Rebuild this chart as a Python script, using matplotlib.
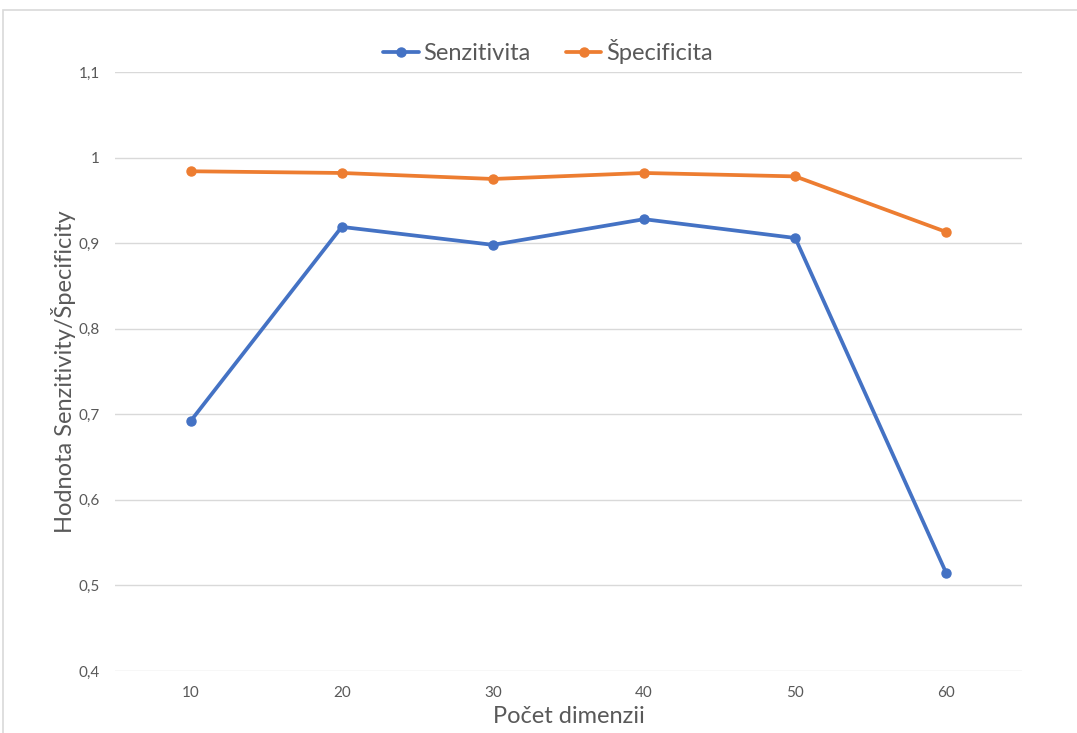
import matplotlib
matplotlib.use("Agg")
import matplotlib.pyplot as plt
from matplotlib.patches import Rectangle

# Data
dimensions = ["10", "20", "30", "40", "50", "60"]
sensitivity = [0.692, 0.919, 0.898, 0.928, 0.906, 0.514]
specificity = [0.984, 0.982, 0.975, 0.982, 0.978, 0.913]
y_ticks = [0.4, 0.5, 0.6, 0.7, 0.8, 0.9, 1.0, 1.1]

plt.rcParams['font.family'] = ['Lato', 'DejaVu Sans']

W, H = 1077, 733
fig = plt.figure(figsize=(W / 100, H / 100), dpi=100)
fig.patch.set_facecolor("white")

# Chart border
fig.patches.append(Rectangle((3 / W, -0.05), 1.2, 1 - 10 / H + 0.05,
                             transform=fig.transFigure, fill=False,
                             edgecolor="#D9D9D9", linewidth=1.2, zorder=0))

ax = fig.add_axes([115 / W, 1 - 671 / H, (1022 - 115) / W, (671 - 72) / H])

blue = "#4472C4"
orange = "#ED7D31"
x = list(range(len(dimensions)))
ax.plot(x, sensitivity, color=blue, linewidth=2.7, marker="o", markersize=6.5,
        label="Senzitivita", solid_capstyle="round", zorder=3)
ax.plot(x, specificity, color=orange, linewidth=2.7, marker="o", markersize=6.5,
        label="Špecificita", solid_capstyle="round", zorder=3)

ax.set_xlim(-0.5, len(dimensions) - 0.5)
ax.set_ylim(0.4, 1.1)
ax.set_xticks(x)
ax.set_xticklabels(dimensions)
ax.set_yticks(y_ticks)
ax.set_yticklabels([f"{v:g}".replace(".", ",") for v in y_ticks])

ax.grid(axis="y", color="#D9D9D9", linewidth=1.0)
ax.set_axisbelow(True)
for s in ax.spines.values():
    s.set_visible(False)
ax.tick_params(axis="both", length=0, labelsize=11, labelcolor="#595959")
ax.tick_params(axis="x", pad=11)
ax.tick_params(axis="y", pad=11)

ax.set_xlabel("Počet dimenzii", fontsize=17, color="#595959", labelpad=4)
ax.set_ylabel("Hodnota Senzitivity/Špecificity", fontsize=17, color="#595959",
              labelpad=2)

leg = ax.legend(loc="center", bbox_to_anchor=(548 / W, (733 - 52) / H), ncol=2,
                bbox_transform=fig.transFigure, frameon=False, fontsize=17,
                handlelength=1.5, columnspacing=1.5, handletextpad=0.2)
for t in leg.get_texts():
    t.set_color("#595959")

fig.savefig("out.png", dpi=100, facecolor="white")
